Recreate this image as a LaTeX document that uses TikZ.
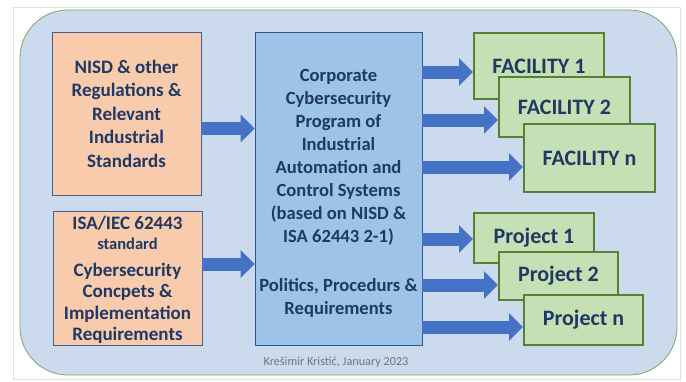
\documentclass[tikz,border=0pt]{standalone}
\usepackage{fontspec}
\setmainfont{Carlito}
\usetikzlibrary{arrows.meta,positioning,calc}
\usepackage{xcolor}
\definecolor{panelfill}{RGB}{204,218,238}
\definecolor{panelline}{RGB}{120,170,90}
\definecolor{srcfill}{RGB}{248,203,173}
\definecolor{srcline}{RGB}{70,95,140}
\definecolor{progfill}{RGB}{157,195,230}
\definecolor{progline}{RGB}{47,85,151}
\definecolor{sitefill}{RGB}{197,224,180}
\definecolor{siteline}{RGB}{84,130,53}
\definecolor{arrowblue}{RGB}{68,114,196}
\definecolor{navytext}{RGB}{31,56,100}
\tikzset{
  srcbox/.style={draw=srcline,fill=srcfill,line width=0.8pt,align=center,inner sep=1pt,
    text=navytext,font=\fontsize{19}{23.5}\selectfont\bfseries},
  progbox/.style={srcbox,draw=progline,fill=progfill,font=\fontsize{18.6}{22.9}\selectfont\bfseries},
  sitebox/.style={draw=siteline,fill=sitefill,line width=2pt,align=center,inner sep=2pt,
    text=navytext,font=\fontsize{22}{26}\selectfont\bfseries},
  bigarrow/.style={-{Triangle[length=14pt,width=27pt]},line width=13pt,draw=arrowblue}
}

\begin{document}
\begin{tikzpicture}[x=1pt,y=-1pt]
  \useasboundingbox (0,0) rectangle (686,381);
  \draw[black!12,line width=0.8pt] (13,7) rectangle (680,379);
  \draw[panelline,fill=panelfill,line width=0.8pt,rounded corners=48pt] (20,10) rectangle (677,375);

  % sources on the left
  \node[srcbox,minimum width=149pt,minimum height=163pt] (nisd) at (126.5,113.5)
    {NISD \& other\\Regulations \&\\Relevant\\Industrial\\Standards};
  \node[srcbox,minimum width=149pt,minimum height=134pt,font=\fontsize{19}{21.5}\selectfont\bfseries] (isa) at (127.5,278)
    {\rule{0pt}{17pt}ISA/IEC 62443\\[-1.5pt]{\fontsize{16.5}{18}\selectfont standard}\\[5.5pt]Cybersecurity\\Concpets \&\\Implementation\\Requirements};

  % corporate program
  \node[progbox,minimum width=167pt,minimum height=313pt] (prog) at (338.5,188.5)
    {\rule{0pt}{22pt}Corporate\\Cybersecurity\\Program of\\Industrial\\Automation and\\Control Systems\\(based on NISD \&\\ISA 62443 2-1)\\[26pt]Politics, Procedurs \&\\Requirements};

  % facilities
  \node[sitebox,minimum width=130pt,minimum height=66pt] (fac1) at (539,66) {FACILITY 1};
  \node[sitebox,minimum width=131pt,minimum height=60pt] (fac2) at (564.5,107) {\raisebox{-3pt}{FACILITY 2}};
  \node[sitebox,minimum width=131pt,minimum height=68pt] (facn) at (589.5,158) {FACILITY n};

  % projects
  \node[sitebox,minimum width=120pt,minimum height=50pt] (prj1) at (534,238) {Project 1};
  \node[sitebox,minimum width=119pt,minimum height=48pt] (prj2) at (558.5,276) {Project 2};
  \node[sitebox,minimum width=119pt,minimum height=50pt] (prjn) at (583.5,320) {Project n};

  % arrow positions
  \coordinate (s1) at ([yshift=-15pt]nisd.east);
  \coordinate (s2) at ([yshift=14pt]isa.east);
  \coordinate (t1) at ([yshift=-6pt]fac1.west);
  \coordinate (t2) at ([yshift=-13pt]fac2.west);
  \coordinate (t3) at ([yshift=-9pt]facn.west);
  \coordinate (t4) at ([yshift=-1pt]prj1.west);
  \coordinate (t5) at ([yshift=-9pt]prj2.west);
  \coordinate (t6) at ([yshift=-7pt]prjn.west);

  \draw[bigarrow] (s1) -- (s1 -| prog.west);
  \draw[bigarrow] (s2) -- (s2 -| prog.west);
  \foreach \t in {t1,t2,t3,t4,t5,t6}
    \draw[bigarrow] (prog.east |- \t) -- (\t);

  \node[text=black!55,font=\fontsize{12.2}{14}\selectfont] (credit) at (336,362) {Krešimir Kristić, January 2023};
\end{tikzpicture}
\end{document}
